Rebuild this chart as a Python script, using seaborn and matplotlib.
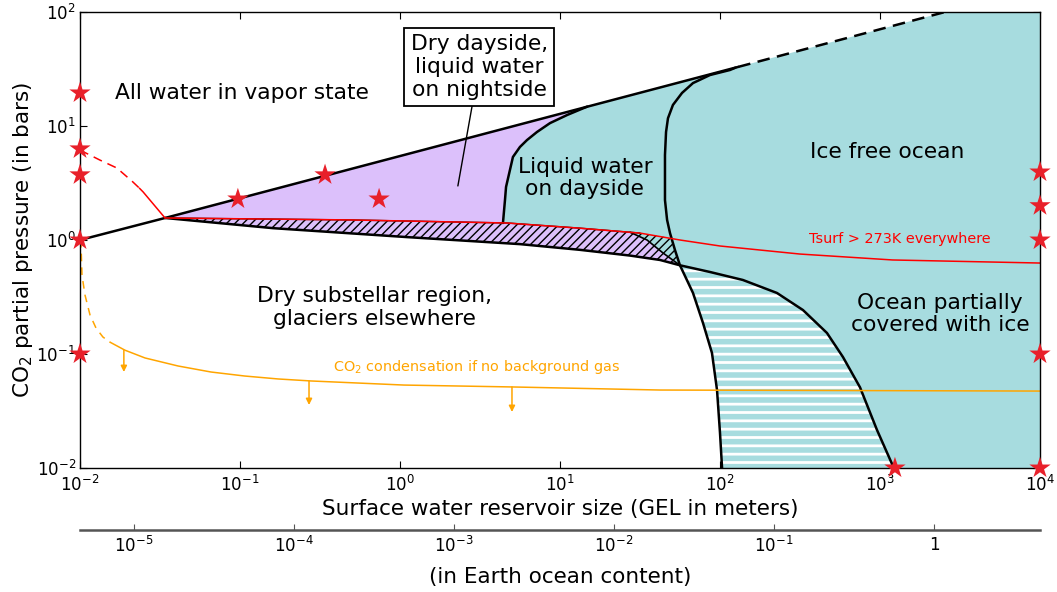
import numpy as np
import matplotlib
matplotlib.use("Agg")
import matplotlib.pyplot as plt
import seaborn as sns
import pandas as pd
from matplotlib.ticker import NullLocator

# ---------------- data (GEL in m, CO2 pressure in bar) ----------------
upper_x = [0.01, 0.034, 130.0]
upper_y = [1.0, 1.56, 33.0]
upper_dash_x = [130.0, 2550.0]
upper_dash_y = [33.0, 100.0]

lower_x = [0.034, 0.161, 1.11, 5.62, 13.3, 27.4, 42.2, 56.2, 86.6, 139, 227, 330, 466, 587, 750, 957, 1220]
lower_y = [1.56, 1.27, 1.06, 0.92, 0.82, 0.73, 0.668, 0.60, 0.524, 0.446, 0.343, 0.243, 0.153, 0.094, 0.051, 0.0216, 0.01]
JUNC = 7  # index of the triple junction in lower_x

tsurf_x = [0.034, 0.487, 4.66, 13.3, 31.6, 56.2, 100, 316, 1200, 1e4]
tsurf_y = [1.56, 1.50, 1.41, 1.27, 1.15, 1.0, 0.886, 0.753, 0.668, 0.628]
tsurf_left_dash_x = [0.01, 0.0133, 0.017, 0.0214, 0.0235]
tsurf_left_dash_y = [6.15, 5.03, 4.28, 3.23, 2.85]
tsurf_left_x = [0.0235, 0.0248, 0.034]
tsurf_left_y = [2.85, 2.64, 1.56]

collapse_x = [27.4, 35.0, 44.0, 56.2]
collapse_y = [1.17, 1.0, 0.77, 0.60]

dayside_x = [4.40, 4.53, 4.60, 5.08, 5.62, 6.22, 7.18, 8.66, 11.1, 14.8]
dayside_y = [1.41, 2.24, 2.92, 5.35, 6.55, 7.53, 8.86, 10.6, 12.5, 14.8]

icefree_x = [125, 115.5, 86.6, 67.8, 57.9, 50.8, 47.3, 46.0, 45.3, 45.3, 46.7, 48.7, 52.3,
             56.2, 67.8, 78.3, 89.1, 95.8, 100, 103]
icefree_y = [32.5, 31.0, 28.0, 23.8, 19.5, 15.3, 11.7, 8.86, 5.57, 2.24, 1.50, 1.15, 0.817,
             0.60, 0.343, 0.187, 0.102, 0.0483, 0.0203, 0.01]
ICE_JUNC = 13

tri_x = [27.4, 31.6, 49.8, 56.2, 44.0, 35.0]
tri_y = [1.17, 1.15, 1.04, 0.60, 0.77, 1.0]

co2_dash_x = [0.01, 0.01015, 0.01029, 0.01074, 0.01155, 0.01259, 0.0139, 0.0154]
co2_dash_y = [1.0, 0.904, 0.493, 0.330, 0.220, 0.169, 0.141, 0.127]
co2_x = [0.0154, 0.0191, 0.0255, 0.041, 0.0659, 0.107, 0.173, 0.278, 1.06, 5.01, 42.2, 1e4]
co2_y = [0.127, 0.108, 0.0923, 0.0785, 0.0695, 0.0641, 0.0604, 0.058, 0.0534, 0.0514, 0.0483, 0.0473]
arrow_x = [0.0188, 0.270, 5.01]
arrow_from = [0.108, 0.058, 0.0514]
arrow_to = [0.0695, 0.0357, 0.031]

stars_x = [0.01, 0.01, 0.01, 0.01, 0.01, 0.097, 0.34, 0.74, 1240, 1e4, 1e4, 1e4, 1e4, 1e4]
stars_y = [19.5, 6.3, 3.73, 1.0, 0.1, 2.29, 3.73, 2.29, 0.01, 3.95, 2.0, 1.0, 0.1, 0.01]

gel_per_ocean = 2180.0
x_ticks = [1e-2, 1e-1, 1e0, 1e1, 1e2, 1e3, 1e4]
y_ticks = [1e-2, 1e-1, 1e0, 1e1, 1e2]
ocean_ticks = [1e-5, 1e-4, 1e-3, 1e-2, 1e-1, 1]
ocean_labels = ["$10^{-5}$", "$10^{-4}$", "$10^{-3}$", "$10^{-2}$", "$10^{-1}$", "1"]

# ---------------- style ----------------
sns.set_style("ticks")
plt.rcParams["font.family"] = ["DejaVu Sans"]
plt.rcParams["mathtext.fontset"] = "dejavusans"
for k in ["text.color", "axes.labelcolor", "xtick.color", "ytick.color", "axes.edgecolor"]:
    plt.rcParams[k] = "black"

PURPLE = "#dcc0fb"
TEAL = "#a7dcdf"
STAR = "#e8202a"
ORANGE = "#ffa500"

fig = plt.figure(figsize=(10.57, 5.92), dpi=100)
ax = fig.add_axes([80 / 1057, 1 - 468 / 592, 960 / 1057, 456 / 592])
ax.set_xscale("log")
ax.set_yscale("log")
ax.set_xlim(1e-2, 1e4)
ax.set_ylim(1e-2, 1e2)

A = np.array
# purple region (dry dayside, liquid nightside)
pur_x = np.concatenate([[upper_x[1]], A(dayside_x)[::-1], tsurf_x[1:2]])
pur_y = np.concatenate([[upper_y[1]], A(dayside_y)[::-1], tsurf_y[1:2]])
ax.fill(pur_x, pur_y, facecolor=PURPLE, edgecolor="none", zorder=1)

# teal region
teal_x = np.concatenate([dayside_x, [upper_x[2], upper_dash_x[1], 1e4, 1e4],
                         A(lower_x[JUNC:])[::-1], A(collapse_x)[::-1][1:], tsurf_x[3::-1][:2]])
teal_y = np.concatenate([dayside_y, [upper_y[2], upper_dash_y[1], 100, 0.01],
                         A(lower_y[JUNC:])[::-1], A(collapse_y)[::-1][1:], tsurf_y[3::-1][:2]])
ax.fill(teal_x, teal_y, facecolor=TEAL, edgecolor="none", zorder=1)


def hatched(xs, ys, face, hcol, hatch, hlw):
    with plt.rc_context({"hatch.linewidth": hlw, "hatch.color": hcol}):
        p = ax.fill(xs, ys, facecolor=face, edgecolor=hcol, hatch=hatch,
                    linewidth=0, zorder=2)[0]
        if hasattr(p, "set_hatch_linewidth"):
            p.set_hatch_linewidth(hlw)
    return p


# purple hatched collapse band
ph_x = np.concatenate([tsurf_x[:4], collapse_x, A(lower_x[:JUNC])[::-1]])
ph_y = np.concatenate([tsurf_y[:4], collapse_y, A(lower_y[:JUNC])[::-1]])
hatched(ph_x, ph_y, PURPLE, "black", "////", 1.0)
# teal hatched triangle
hatched(tri_x, tri_y, TEAL, "black", "////", 1.0)
# striped teal (partially ice covered ocean, glaciers)
st_x = np.concatenate([icefree_x[ICE_JUNC:], A(lower_x[JUNC:])[::-1]])
st_y = np.concatenate([icefree_y[ICE_JUNC:], A(lower_y[JUNC:])[::-1]])
hatched(st_x, st_y, TEAL, "white", "--", 2.0)

# boundary lines
lw = 1.8
kw = dict(color="black", lw=lw, zorder=4, solid_joinstyle="round")
ax.plot(upper_x, upper_y, **kw)
ax.plot(upper_dash_x, upper_dash_y, color="black", lw=lw, ls=(0, (5, 3)), zorder=4)
ax.plot(lower_x, lower_y, **kw)
ax.plot(dayside_x, dayside_y, **kw)
ax.plot(icefree_x, icefree_y, **kw)
ax.plot(collapse_x, collapse_y, color="black", lw=1.2, zorder=4)
ax.plot(tsurf_x[:5], tsurf_y[:5], color="black", lw=1.0, zorder=3)

# Tsurf line
ax.plot(tsurf_x, tsurf_y, color="red", lw=1.1, zorder=5)
ax.plot(tsurf_left_x, tsurf_left_y, color="red", lw=1.1, zorder=5)
ax.plot(tsurf_left_dash_x, tsurf_left_dash_y, color="red", lw=1.1, ls=(0, (6, 4)), zorder=5)

# CO2 condensation
ax.plot(co2_dash_x, co2_dash_y, color=ORANGE, lw=1.1, ls=(0, (5, 4)), zorder=5)
ax.plot(co2_x, co2_y, color=ORANGE, lw=1.1, zorder=5)
for xa, y0, y1 in zip(arrow_x, arrow_from, arrow_to):
    ax.annotate("", xy=(xa, y1), xytext=(xa, y0),
                arrowprops=dict(arrowstyle="-|>", color=ORANGE, lw=1.1,
                                mutation_scale=9, shrinkA=0, shrinkB=0), zorder=5)

# stars
star_df = pd.DataFrame({"gel": stars_x, "pco2": stars_y})
sns.scatterplot(data=star_df, x="gel", y="pco2", marker="*", s=260, color=STAR,
                edgecolor="none", ax=ax, zorder=7, clip_on=False, legend=False)

# texts
fs = 15.7
ls_ = 1.17
ax.text(0.103, 19.5, "All water in vapor state", fontsize=fs, ha="center", va="center")
ax.annotate("Dry dayside,\nliquid water\non nightside", xy=(2.30, 2.98), xytext=(3.12, 33),
            fontsize=fs, ha="center", va="center", linespacing=ls_,
            bbox=dict(boxstyle="square,pad=0.28", fc="white", ec="black", lw=1.3),
            arrowprops=dict(arrowstyle="-", color="black", lw=1.0, shrinkA=0, shrinkB=0),
            zorder=8)
ax.text(14.3, 3.5, "Liquid water\non dayside", fontsize=fs, ha="center", va="center",
        linespacing=ls_, zorder=8)
ax.text(1106, 5.9, "Ice free ocean", fontsize=fs, ha="center", va="center", zorder=8)
ax.text(0.688, 0.254, "Dry substellar region,\nglaciers elsewhere", fontsize=fs,
        ha="center", va="center", linespacing=ls_, zorder=8)
ax.text(2371, 0.224, "Ocean partially\ncovered with ice", fontsize=fs, ha="center",
        va="center", linespacing=ls_, zorder=8)
ax.text(1334, 1.02, "Tsurf > 273K everywhere", fontsize=10.4, color="red",
        ha="center", va="center", zorder=8)
ax.text(2.99, 0.077, "CO$_2$ condensation if no background gas", fontsize=10.4,
        color=ORANGE, ha="center", va="center", zorder=8)

# axes
ax.set_xticks(x_ticks)
ax.set_yticks(y_ticks)
ax.xaxis.set_minor_locator(NullLocator())
ax.yaxis.set_minor_locator(NullLocator())
ax.tick_params(which="both", direction="in", top=True, right=True, length=5,
               width=0.8, labelsize=12)
ax.tick_params(axis="x", pad=5)
ax.tick_params(axis="y", pad=3)
for s in ax.spines.values():
    s.set_linewidth(1.0)
    s.set_color("black")
    s.set_zorder(6)
ax.set_xlabel("Surface water reservoir size (GEL in meters)", fontsize=15.5, labelpad=3)
ax.set_ylabel("CO$_2$ partial pressure (in bars)", fontsize=15.5, labelpad=1)

sec = ax.secondary_xaxis(-62 / 456, functions=(lambda g: g / gel_per_ocean,
                                               lambda o: o * gel_per_ocean))
sec.set_xticks(ocean_ticks, labels=ocean_labels)
sec.xaxis.set_minor_locator(NullLocator())
sec.tick_params(direction="in", length=4, width=0.8, labelsize=12, pad=4, color="#555555")
sec.spines["bottom"].set_linewidth(1.8)
sec.spines["bottom"].set_color("#555555")
sec.set_xlabel("(in Earth ocean content)", fontsize=15.5, labelpad=8)

fig.savefig("out.png", dpi=100)
